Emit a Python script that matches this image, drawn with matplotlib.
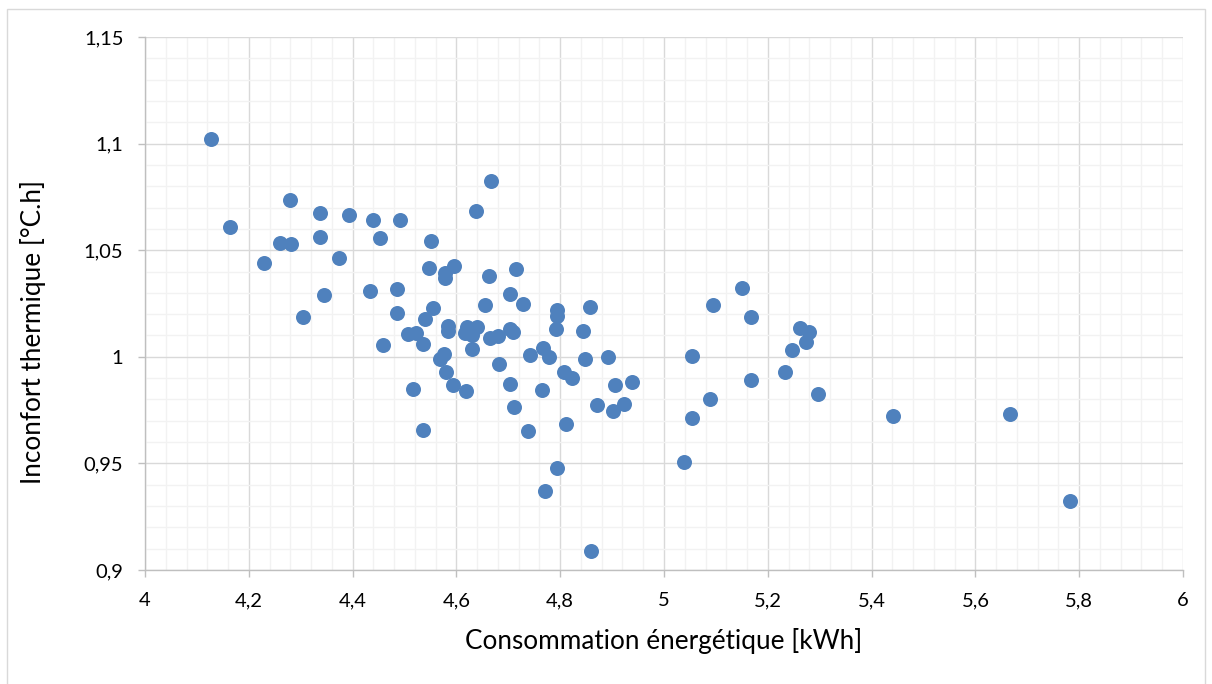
import matplotlib
matplotlib.use("Agg")
import matplotlib.pyplot as plt
from matplotlib.ticker import MultipleLocator, FuncFormatter
from matplotlib.patches import Rectangle

consommation = [
    4.127, 4.163, 4.230, 4.260, 4.282, 4.280, 4.304, 4.337, 4.337, 4.344,
    4.374, 4.394, 4.433, 4.439, 4.453, 4.459, 4.486, 4.486, 4.491, 4.507,
    4.522, 4.516, 4.535, 4.536, 4.540, 4.548, 4.552, 4.555, 4.568, 4.577,
    4.579, 4.578, 4.578, 4.583, 4.584, 4.596, 4.594, 4.618, 4.620, 4.617,
    4.630, 4.639, 4.631, 4.637, 4.667, 4.656, 4.662, 4.665, 4.681, 4.682,
    4.703, 4.709, 4.704, 4.703, 4.711, 4.715, 4.728, 4.738, 4.741, 4.764,
    4.766, 4.771, 4.779, 4.794, 4.794, 4.792, 4.793, 4.807, 4.823, 4.811,
    4.844, 4.848, 4.857, 4.859, 4.870, 4.893, 4.902, 4.905, 4.922, 4.939,
    5.039, 5.053, 5.054, 5.089, 5.095, 5.150, 5.167, 5.168, 5.233, 5.247,
    5.263, 5.279, 5.274, 5.297, 5.441, 5.667, 5.782,
]
inconfort = [
    1.1022, 1.0610, 1.0438, 1.0532, 1.0529, 1.0734, 1.0185, 1.0675, 1.0561, 1.0289,
    1.0464, 1.0666, 1.0308, 1.0643, 1.0558, 1.0055, 1.0316, 1.0205, 1.0643, 1.0105,
    1.0110, 0.9847, 1.0058, 0.9658, 1.0179, 1.0417, 1.0543, 1.0231, 0.9992, 1.0013,
    0.9930, 1.0391, 1.0368, 1.0145, 1.0123, 1.0426, 0.9867, 0.9838, 1.0141, 1.0110,
    1.0102, 1.0141, 1.0036, 1.0685, 1.0826, 1.0242, 1.0380, 1.0086, 1.0099, 0.9966,
    1.0129, 1.0114, 1.0293, 0.9871, 0.9765, 1.0410, 1.0250, 0.9652, 1.0007, 0.9844,
    1.0042, 0.9371, 1.0000, 1.0219, 1.0192, 1.0129, 0.9478, 0.9930, 0.9899, 0.9686,
    1.0119, 0.9988, 1.0232, 0.9089, 0.9772, 1.0000, 0.9744, 0.9867, 0.9778, 0.9881,
    0.9506, 0.9714, 1.0002, 0.9803, 1.0242, 1.0321, 1.0186, 0.9891, 0.9930, 1.0031,
    1.0135, 1.0114, 1.0068, 0.9825, 0.9722, 0.9731, 0.9323,
]

x_label = "Consommation énergétique [kWh]"
y_label = "Inconfort thermique [°C.h]"

plt.rcParams['font.family'] = ['Lato', 'DejaVu Sans']

W, H = 1212, 684
fig = plt.figure(figsize=(W / 100, H / 100), dpi=100)
fig.patch.set_facecolor('white')
fig.patches.append(Rectangle((7 / W, -0.05), (1205 - 7) / W, 1.05 - 9 / H,
                             transform=fig.transFigure, fill=False,
                             edgecolor='#D9D9D9', linewidth=1.0))

ax = fig.add_axes([145 / W, 1 - 570 / H, (1183 - 145) / W, (570 - 37) / H])
ax.set_xlim(4, 6)
ax.set_ylim(0.9, 1.15)

ax.xaxis.set_major_locator(MultipleLocator(0.2))
ax.xaxis.set_minor_locator(MultipleLocator(0.04))
ax.yaxis.set_major_locator(MultipleLocator(0.05))
ax.yaxis.set_minor_locator(MultipleLocator(0.01))

fmt = FuncFormatter(lambda v, p: ('%g' % round(v, 4)).replace('.', ','))
ax.xaxis.set_major_formatter(fmt)
ax.yaxis.set_major_formatter(fmt)

ax.grid(which='minor', color='#F2F2F2', linewidth=1.0, zorder=0)
ax.grid(which='major', color='#D9D9D9', linewidth=1.0, zorder=0)
ax.set_axisbelow(True)

for s in ['top', 'right']:
    ax.spines[s].set_visible(False)
for s in ['left', 'bottom']:
    ax.spines[s].set_color('#BFBFBF')
    ax.spines[s].set_linewidth(1.0)

ax.tick_params(which='major', direction='out', length=5, width=1.0,
               color='#BFBFBF', labelsize=14.5, labelcolor='#000000')
ax.tick_params(axis='x', which='major', pad=11)
ax.tick_params(axis='y', which='major', pad=10.5)
ax.tick_params(which='minor', length=0)

ax.plot(consommation, inconfort, linestyle='none', marker='o',
        markersize=10.8, markerfacecolor='#4F81BD', markeredgecolor='#4F81BD',
        markeredgewidth=0, zorder=3, clip_on=False)

ax.set_xlabel(x_label, fontsize=18.8, va='center')
ax.xaxis.set_label_coords(0.5, (570 - 641) / 533)
ax.set_ylabel(y_label, fontsize=18.8, va='center')
ax.yaxis.set_label_coords((33 - 145) / 1038, (570 - 332) / 533)

fig.savefig('out.png', dpi=100, facecolor='white')
